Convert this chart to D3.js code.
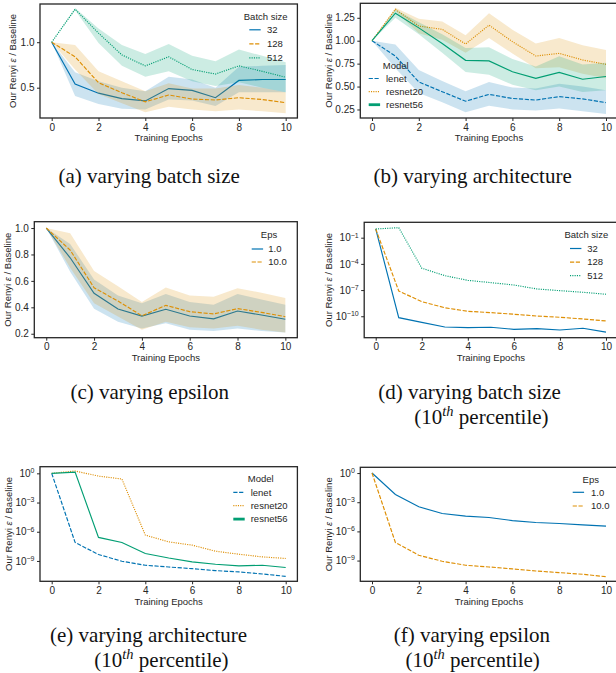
<!DOCTYPE html>
<html>
<head>
<meta charset="utf-8">
<script src="https://cdn.jsdelivr.net/npm/d3@7"></script>
<style>
  body { margin: 0; background: #fff; }
  svg { display: block; }
</style>
</head>
<body>
<div id="vis"></div>
<script>
var epochs = [0, 1, 2, 3, 4, 5, 6, 7, 8, 9, 10];
var xTicks = [0, 2, 4, 6, 8, 10];

// (a) varying batch size
var bs32Mean = [1.0, 0.54, 0.44, 0.38, 0.355, 0.49, 0.47, 0.39, 0.58, 0.59, 0.59];
var bs32Lo   = [1.0, 0.41, 0.32, 0.27, 0.26, 0.37, 0.36, 0.30, 0.45, 0.45, 0.45];
var bs32Hi   = [1.0, 0.67, 0.57, 0.50, 0.46, 0.62, 0.59, 0.50, 0.73, 0.74, 0.75];
var bs128Mean = [1.0, 0.84, 0.555, 0.445, 0.345, 0.42, 0.375, 0.365, 0.39, 0.37, 0.335];
var bs128Lo   = [1.0, 0.70, 0.43, 0.33, 0.23, 0.29, 0.26, 0.24, 0.26, 0.24, 0.22];
var bs128Hi   = [1.0, 0.97, 0.68, 0.57, 0.46, 0.55, 0.49, 0.49, 0.53, 0.50, 0.45];
var bs512Mean = [1.0, 1.363, 1.10, 0.86, 0.74, 0.84, 0.70, 0.65, 0.74, 0.68, 0.615];
var bs512Lo   = [1.0, 1.35, 0.99, 0.74, 0.62, 0.68, 0.57, 0.52, 0.56, 0.50, 0.45];
var bs512Hi   = [1.0, 1.375, 1.15, 0.97, 0.87, 0.98, 0.85, 0.79, 0.92, 0.85, 0.78];

// (b) varying architecture
var lenetMean = [1.0, 0.833, 0.55, 0.444, 0.34, 0.415, 0.37, 0.353, 0.39, 0.365, 0.325];
var lenetLo   = [1.0, 0.70, 0.43, 0.33, 0.22, 0.29, 0.25, 0.24, 0.26, 0.23, 0.20];
var lenetHi   = [1.0, 0.96, 0.68, 0.56, 0.45, 0.55, 0.49, 0.48, 0.53, 0.50, 0.46];
var r20Mean = [1.0, 1.342, 1.16, 1.124, 0.964, 1.17, 0.99, 0.833, 0.862, 0.79, 0.742];
var r20Lo   = [1.0, 1.32, 1.08, 1.01, 0.87, 1.03, 0.86, 0.70, 0.71, 0.64, 0.59];
var r20Hi   = [1.0, 1.36, 1.24, 1.21, 1.06, 1.30, 1.12, 0.97, 1.03, 0.95, 0.90];
var r56Mean = [1.0, 1.30, 1.14, 0.97, 0.786, 0.78, 0.662, 0.59, 0.655, 0.58, 0.61];
var r56Lo   = [1.0, 1.25, 1.07, 0.87, 0.66, 0.63, 0.52, 0.46, 0.50, 0.44, 0.46];
var r56Hi   = [1.0, 1.34, 1.20, 1.07, 0.92, 0.93, 0.80, 0.72, 0.83, 0.74, 0.76];

// (c) varying epsilon
var eps1Mean = [1.0, 0.775, 0.506, 0.387, 0.334, 0.385, 0.334, 0.313, 0.372, 0.342, 0.31];
var eps1Lo   = [1.0, 0.67, 0.39, 0.29, 0.24, 0.28, 0.23, 0.22, 0.24, 0.22, 0.21];
var eps1Hi   = [1.0, 0.88, 0.61, 0.49, 0.43, 0.50, 0.44, 0.42, 0.50, 0.46, 0.42];
var eps10Mean = [1.0, 0.833, 0.548, 0.447, 0.336, 0.415, 0.367, 0.35, 0.39, 0.362, 0.329];
var eps10Lo   = [1.0, 0.70, 0.43, 0.33, 0.23, 0.29, 0.25, 0.24, 0.26, 0.23, 0.21];
var eps10Hi   = [1.0, 0.96, 0.675, 0.56, 0.44, 0.55, 0.49, 0.48, 0.545, 0.51, 0.47];

// (d) batch size, 10th percentile (log)
var p10bs32  = [1, 6.9e-11, 2.0e-11, 5.9e-12, 5.0e-12, 5.5e-12, 3.2e-12, 3.8e-12, 2.7e-12, 4.2e-12, 1.5e-12];
var p10bs128 = [1, 7.9e-8, 4.7e-9, 9.5e-10, 3.7e-10, 2.6e-10, 1.7e-10, 1.07e-10, 7.6e-11, 4.9e-11, 2.9e-11];
var p10bs512 = [1, 1.4, 3.2e-5, 4.5e-6, 1.3e-6, 7.1e-7, 3.8e-7, 1.35e-7, 8.5e-8, 5.6e-8, 3.3e-8];

// (e) architecture, 10th percentile (log)
var p10lenet = [1, 7.9e-8, 4.6e-9, 9.3e-10, 3.6e-10, 2.4e-10, 1.6e-10, 1.02e-10, 7.4e-11, 4.6e-11, 2.6e-11];
var p10r20   = [1, 1.74, 0.52, 0.26, 4.5e-7, 9.1e-8, 4.2e-8, 1.0e-8, 4.9e-9, 2.6e-9, 1.8e-9];
var p10r56   = [1, 1.35, 2.6e-7, 7.9e-8, 5.8e-9, 2.0e-9, 7.9e-10, 4.6e-10, 3.1e-10, 3.6e-10, 2.1e-10];

// (f) epsilon, 10th percentile (log)
var p10eps1  = [1, 6.3e-3, 3.4e-4, 6.9e-5, 3.7e-5, 2.7e-5, 1.3e-5, 8.3e-6, 6.5e-6, 4.7e-6, 3.5e-6];
var p10eps10 = [1, 7.2e-8, 3.5e-9, 8.5e-10, 3.3e-10, 2.2e-10, 1.4e-10, 8.5e-11, 5.8e-11, 3.9e-11, 2.2e-11];

var captions = ["(a) varying batch size", "(b) varying architecture", "(c) varying epsilon",
                "(d) varying batch size", "(e) varying architecture", "(f) varying epsilon"];

var blue = "#0173b2", orange = "#de8f05", green = "#029e73";
var SOLID = null, DASH = "4.2,1.6", DOT = "1.1,1.2";
var sans = "'Liberation Sans', Arial, Helvetica, sans-serif";
var serif = "'Liberation Serif', 'Times New Roman', Times, serif";
var ink = "#262626";

function s(name, color, dash, mean, lo, hi, lw) {
    return {name: name, color: color, dash: dash, mean: mean, lo: lo, hi: hi, legendWidth: lw || 1.2};
}

var panels = [
    {left: 40, right: 297.4, top: 4, bottom: 118, log: false, yDomain: [0.167, 1.42],
     yTicks: [0.5, 1.0], fmt: d3.format(".1f"), ylabX: 13, xlabY: 137.7,
     legend: {title: "Batch size", tx: 265.7, ty: 16.7, hx: 249.3, lx: 267, y0: 29.8, gap: 14},
     series: [s("32", blue, SOLID, bs32Mean, bs32Lo, bs32Hi),
              s("128", orange, DASH, bs128Mean, bs128Lo, bs128Hi),
              s("512", green, DOT, bs512Mean, bs512Lo, bs512Hi)]},
    {left: 360.3, right: 617.7, top: 3.3, bottom: 118, log: false, yDomain: [0.157, 1.408],
     yTicks: [0.25, 0.5, 0.75, 1.0, 1.25], fmt: d3.format(".2f"), ylabX: 329, xlabY: 137.7,
     legend: {title: "Model", tx: 395.8, ty: 65.3, hx: 368.7, lx: 386, y0: 78.5, gap: 13.1},
     series: [s("lenet", blue, DASH, lenetMean, lenetLo, lenetHi),
              s("resnet20", orange, DOT, r20Mean, r20Lo, r20Hi),
              s("resnet56", green, SOLID, r56Mean, r56Lo, r56Hi, 2.8)]},
    {left: 34.3, right: 297.3, top: 221.7, bottom: 337.7, log: false, yDomain: [0.17, 1.048],
     yTicks: [0.2, 0.4, 0.6, 0.8, 1.0], fmt: d3.format(".1f"), ylabX: 8, xlabY: 357.7,
     legend: {title: "Eps", tx: 269, ty: 235, hx: 251.7, lx: 268.3, y0: 249, gap: 13},
     series: [s("1.0", blue, SOLID, eps1Mean, eps1Lo, eps1Hi),
              s("10.0", orange, DASH, eps10Mean, eps10Lo, eps10Hi)]},
    {left: 364.2, right: 617.5, top: 222.3, bottom: 337.7, log: true, yDomain: [3.5e-13, 5.8],
     yTicks: [1e-10, 1e-7, 1e-4, 1e-1], ylabX: 329, xlabY: 357.3,
     legend: {title: "Batch size", tx: 586.3, ty: 235, hx: 570, lx: 587.3, y0: 248.5, gap: 13.6},
     series: [s("32", blue, SOLID, p10bs32, null, null),
              s("128", orange, DASH, p10bs128, null, null),
              s("512", green, DOT, p10bs512, null, null)]},
    {left: 40, right: 297.4, top: 466.7, bottom: 581.3, log: true, yDomain: [8.1e-12, 4.8],
     yTicks: [1e-9, 1e-6, 1e-3, 1], ylabX: 8.2, xlabY: 601.7,
     legend: {title: "Model", tx: 260.7, ty: 478.3, hx: 233.3, lx: 250.7, y0: 492.3, gap: 13.4},
     series: [s("lenet", blue, DASH, p10lenet, null, null),
              s("resnet20", orange, DOT, p10r20, null, null),
              s("resnet56", green, SOLID, p10r56, null, null, 2.8)]},
    {left: 360.3, right: 617.7, top: 467.3, bottom: 581.3, log: true, yDomain: [7.4e-12, 3.9],
     yTicks: [1e-9, 1e-6, 1e-3, 1], ylabX: 329, xlabY: 601.7,
     legend: {title: "Eps", tx: 590.8, ty: 479.3, hx: 572.7, lx: 591, y0: 492.3, gap: 13.7},
     series: [s("1.0", blue, SOLID, p10eps1, null, null),
              s("10.0", orange, DASH, p10eps10, null, null)]}
];

// caption placement: first line start/baseline, optional "(10th percentile)" second line
var captionPos = [
    {x: 58.5, y: 183}, {x: 373.5, y: 183}, {x: 70.4, y: 399},
    {x: 378.3, y: 399, x2: 414.3, y2: 424},
    {x: 50, y: 641.7, x2: 94.3, y2: 667.3},
    {x: 393.7, y: 641.7, x2: 405.5, y2: 667.3}
];

var svg = d3.select("#vis").append("svg")
    .attr("width", 616)
    .attr("height", 673)
    .style("background", "#fff");

panels.forEach(function (p) {
    var x = d3.scaleLinear().domain([-0.5, 10.5]).range([p.left, p.right]);
    var y = (p.log ? d3.scaleLog() : d3.scaleLinear()).domain(p.yDomain).range([p.bottom, p.top]);

    var g = svg.append("g");

    var line = function (vals) {
        return d3.line().x(function (d, i) { return x(epochs[i]); })
            .y(function (d) { return y(d); })(vals);
    };
    var area = d3.area()
        .x(function (d) { return x(d.e); })
        .y0(function (d) { return y(d.lo); })
        .y1(function (d) { return y(d.hi); });

    p.series.forEach(function (sr) {
        g.append("path")
            .attr("d", line(sr.mean))
            .attr("fill", "none")
            .attr("stroke", sr.color)
            .attr("stroke-width", 1.15)
            .attr("stroke-dasharray", sr.dash);
        if (sr.lo && sr.hi) {
            var band = epochs.map(function (e, i) { return {e: e, lo: sr.lo[i], hi: sr.hi[i]}; });
            g.append("path")
                .attr("d", area(band))
                .attr("fill", sr.color)
                .attr("fill-opacity", 0.2)
                .attr("stroke", "none");
        }
    });

    // axes
    var xAxis = g.append("g")
        .attr("transform", "translate(0," + p.bottom + ")")
        .call(d3.axisBottom(x).tickValues(xTicks).tickSize(3).tickPadding(2.5).tickSizeOuter(0));
    var yAxis = g.append("g")
        .attr("transform", "translate(" + p.left + ",0)")
        .call(d3.axisLeft(y).tickValues(p.yTicks).tickSize(3).tickPadding(2.5).tickSizeOuter(0)
            .tickFormat(p.log ? function () { return ""; } : p.fmt));

    [xAxis, yAxis].forEach(function (ax) {
        ax.select(".domain").remove();
        ax.attr("font-family", sans).attr("font-size", 10);
        ax.selectAll(".tick line").attr("stroke", ink).attr("stroke-width", 1);
        ax.selectAll(".tick text").attr("fill", ink);
    });

    if (p.log) {
        yAxis.selectAll(".tick text").each(function (d) {
            var e = Math.round(Math.log10(d));
            var t = d3.select(this);
            t.append("tspan").text("10");
            t.append("tspan").attr("dy", "-0.55em").attr("font-size", 7)
                .text(e < 0 ? "\u2212" + (-e) : String(e));
        });
    }

    // frame
    g.append("rect")
        .attr("x", p.left).attr("y", p.top)
        .attr("width", p.right - p.left).attr("height", p.bottom - p.top)
        .attr("fill", "none")
        .attr("stroke", ink)
        .attr("stroke-width", 1.3);

    // axis labels
    g.append("text")
        .attr("x", (p.left + p.right) / 2)
        .attr("y", p.xlabY)
        .attr("dy", "0.35em")
        .attr("text-anchor", "middle")
        .attr("font-family", sans).attr("font-size", 9.5).attr("fill", ink)
        .text("Training Epochs");

    var yl = g.append("text")
        .attr("transform", "translate(" + p.ylabX + "," + (p.top + p.bottom) / 2 + ") rotate(-90)")
        .attr("dy", "0.35em")
        .attr("text-anchor", "middle")
        .attr("font-family", sans).attr("font-size", 9.5).attr("fill", ink);
    yl.append("tspan").text("Our Renyi ");
    yl.append("tspan").attr("font-style", "italic").text("\u03b5");
    yl.append("tspan").text(" / Baseline");

    // legend
    var L = p.legend;
    g.append("text")
        .attr("x", L.tx).attr("y", L.ty).attr("dy", "0.35em")
        .attr("text-anchor", "middle")
        .attr("font-family", sans).attr("font-size", 9.5).attr("fill", ink)
        .text(L.title);
    var rows = g.selectAll(".leg").data(p.series).enter().append("g")
        .attr("transform", function (d, i) { return "translate(0," + (L.y0 + i * L.gap) + ")"; });
    rows.append("line")
        .attr("x1", L.hx).attr("x2", L.hx + 11.4)
        .attr("stroke", function (d) { return d.color; })
        .attr("stroke-width", function (d) { return d.legendWidth; })
        .attr("stroke-dasharray", function (d) { return d.dash; });
    rows.append("text")
        .attr("x", L.lx).attr("dy", "0.35em")
        .attr("font-family", sans).attr("font-size", 9.5).attr("fill", ink)
        .text(function (d) { return d.name; });
});

// captions
captions.forEach(function (c, i) {
    var pos = captionPos[i];
    svg.append("text")
        .attr("x", pos.x).attr("y", pos.y)
        .attr("font-family", serif).attr("font-size", 21).attr("fill", "#111")
        .text(c);
    if (pos.x2 !== undefined) {
        var t = svg.append("text")
            .attr("x", pos.x2).attr("y", pos.y2)
            .attr("font-family", serif).attr("font-size", 21).attr("fill", "#111");
        t.append("tspan").text("(10");
        t.append("tspan").attr("font-style", "italic").attr("font-size", 14.5).attr("dy", -8).text("th");
        t.append("tspan").attr("dy", 8).text(" percentile)");
    }
});
</script>
</body>
</html>
